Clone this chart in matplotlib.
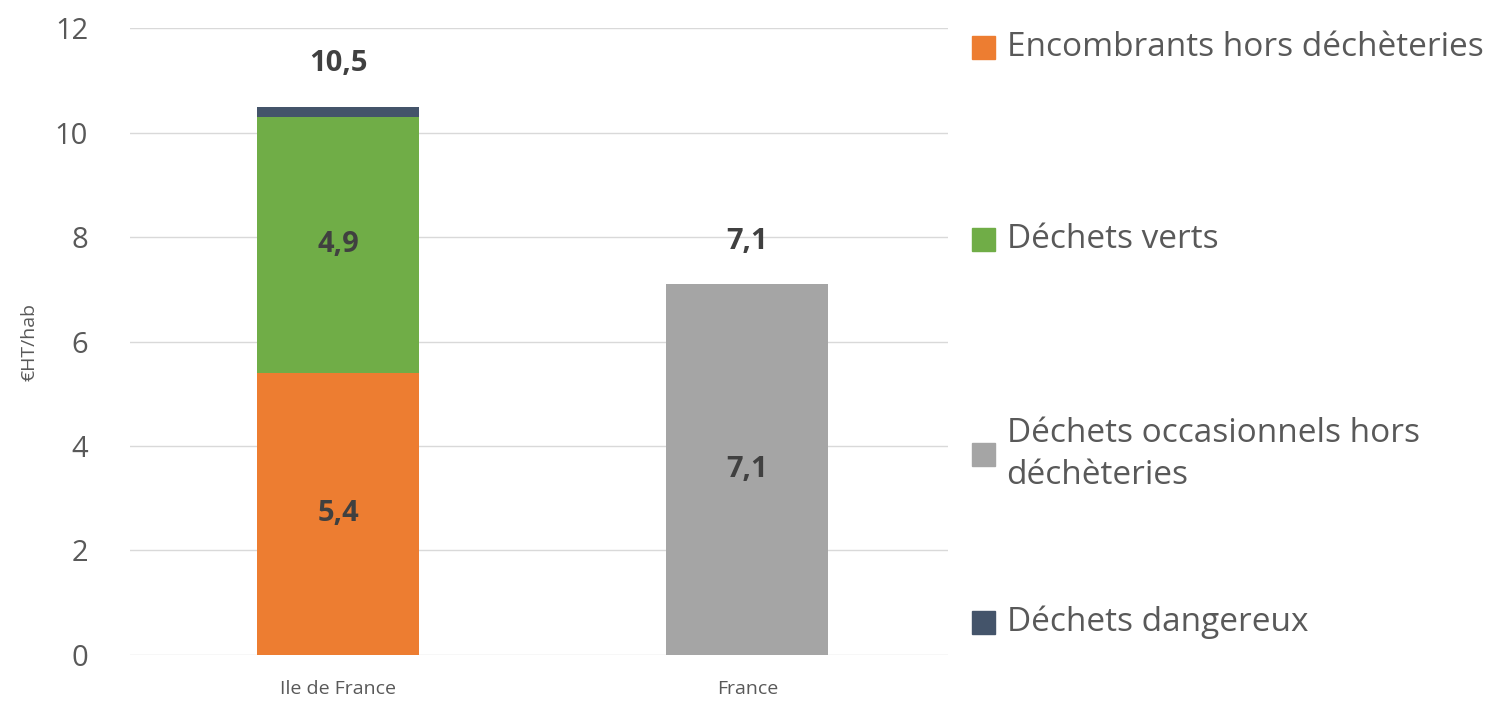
import matplotlib.pyplot as plt
from matplotlib.patches import Rectangle
import numpy as np

plt.rcParams['font.family'] = ['Open Sans', 'DejaVu Sans']

# Données
categories = ['Ile de France', 'France']
series = ['Encombrants hors déchèteries', 'Déchets verts',
          'Déchets occasionnels hors\ndéchèteries', 'Déchets dangereux']
colors = ['#ED7D31', '#70AD47', '#A5A5A5', '#44546A']
# valeurs par série (Ile de France, France)
encombrants = [5.4, 0.0]
verts = [4.9, 0.0]
occasionnels = [0.0, 7.1]
dangereux = [0.2, 0.0]
totals = [10.5, 7.1]

values = [encombrants, verts, occasionnels, dangereux]
grey = '#595959'

fig = plt.figure(figsize=(15.09, 7.05), dpi=100)
ax = fig.add_axes([0.086, 0.071, 0.542, 0.889])

x = np.arange(len(categories)) + 0.01
bottom = np.zeros(len(categories))
for vals, col in zip(values, colors):
    vals = np.array(vals)
    ax.bar(x, vals, 0.396, bottom=bottom, color=col, zorder=3)
    for i, v in enumerate(vals):
        if v >= 1:
            ax.text(x[i], bottom[i] + v / 2, f'{v:.1f}'.replace('.', ','),
                    ha='center', va='center', fontsize=21, fontweight='bold',
                    color='#404040', zorder=4)
    bottom += vals

for i, t in enumerate(totals):
    ax.annotate(f'{t:.1f}'.replace('.', ','), (x[i], t), xytext=(0, 31),
                textcoords='offset points', ha='center', va='center',
                fontsize=21, fontweight='bold', color='#404040')

ax.set_xlim(-0.5, 1.5)
ax.set_ylim(0, 12)
ax.set_yticks(range(0, 13, 2))
ax.set_xticks(x)
ax.set_xticklabels(categories, fontsize=14, color=grey)
ax.tick_params(axis='y', labelsize=21, labelcolor=grey, length=0, pad=30)
ax.tick_params(axis='x', length=0, pad=18)
ax.grid(axis='y', color='#D9D9D9', linewidth=1, zorder=0)
for s in ax.spines.values():
    s.set_visible(False)
ax.set_ylabel('€HT/hab', fontsize=14, color=grey, labelpad=12)

# Légende à droite
leg_y = [0.933, 0.66, 0.355, 0.117]
for lab, col, yy in zip(series, colors, leg_y):
    fig.patches.append(Rectangle((0.644, yy - 0.0165), 0.0155, 0.033,
                                 transform=fig.transFigure, color=col))
    fig.text(0.667, yy, lab, fontsize=24, color=grey, va='center',
             ha='left', linespacing=1.35)

fig.savefig('out.png', dpi=100)
